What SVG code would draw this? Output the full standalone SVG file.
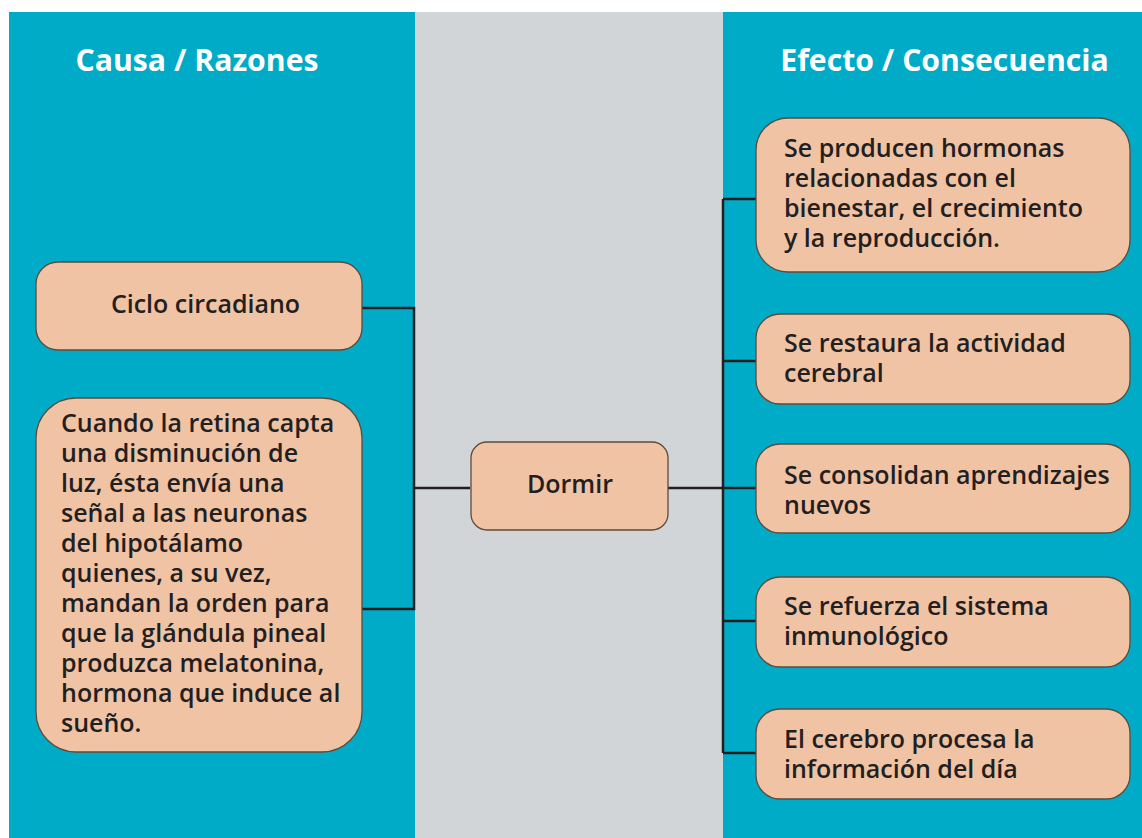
<svg xmlns="http://www.w3.org/2000/svg" width="1142" height="838" viewBox="0 0 1142 838">
<style>
.panel{fill:#00ABC7}
.mid{fill:#D1D5D8}
.box{fill:#F0C3A5;stroke:#5E4B3C;stroke-width:1.3}
.t{font-family:"Open Sans","Noto Sans","Liberation Sans",sans-serif;font-weight:600;font-size:25px;fill:#231F20}
.h{font-family:"Open Sans","Noto Sans","Liberation Sans",sans-serif;font-weight:700;font-size:30.2px;fill:#FFFFFF}
.c{fill:none;stroke:#231F20;stroke-width:2.5}
</style>
<rect width="1142" height="838" fill="#FFFFFF"/>
<rect class="panel" x="9" y="12" width="406" height="826"/>
<rect class="mid" x="415" y="12" width="308" height="826"/>
<rect class="panel" x="723" y="12" width="419" height="826"/>
<text class="h" x="197" y="71" text-anchor="middle">Causa / Razones</text>
<text class="h" x="944.5" y="71" text-anchor="middle">Efecto / Consecuencia</text>
<g id="connectors">
<polyline class="c" points="362,308 414,308 414,609 362,609"/>
<line class="c" x1="414" y1="488" x2="470" y2="488"/>
<line class="c" x1="668" y1="488" x2="723" y2="488"/>
<line class="c" x1="723" y1="199" x2="723" y2="753"/>
<line class="c" x1="723" y1="199" x2="756" y2="199"/>
<line class="c" x1="723" y1="361" x2="756" y2="361"/>
<line class="c" x1="723" y1="488" x2="756" y2="488"/>
<line class="c" x1="723" y1="621" x2="756" y2="621"/>
<line class="c" x1="723" y1="753" x2="756" y2="753"/>
</g>
<g id="ciclo">
<rect class="box" x="36" y="262" width="326" height="88" rx="22"/>
<text class="t" x="205.5" y="313" text-anchor="middle">Ciclo circadiano</text>
</g>
<g id="retina">
<rect class="box" x="36" y="398" width="326" height="354" rx="40"/>
<text class="t" x="61" y="432">Cuando la retina capta</text>
<text class="t" x="61" y="462">una disminución de</text>
<text class="t" x="61" y="492">luz, ésta envía una</text>
<text class="t" x="61" y="522">señal a las neuronas</text>
<text class="t" x="61" y="552">del hipotálamo</text>
<text class="t" x="61" y="582">quienes, a su vez,</text>
<text class="t" x="61" y="612">mandan la orden para</text>
<text class="t" x="61" y="642">que la glándula pineal</text>
<text class="t" x="61" y="672">produzca melatonina,</text>
<text class="t" x="61" y="702">hormona que induce al</text>
<text class="t" x="61" y="732">sueño.</text>
</g>
<g id="dormir">
<rect class="box" x="471" y="442" width="197" height="88" rx="16"/>
<text class="t" x="570" y="493" text-anchor="middle">Dormir</text>
</g>
<g id="hormonas">
<rect class="box" x="756" y="118" width="374" height="154" rx="32"/>
<text class="t" x="784" y="157">Se producen hormonas</text>
<text class="t" x="784" y="187">relacionadas con el</text>
<text class="t" x="784" y="217">bienestar, el crecimiento</text>
<text class="t" x="784" y="247">y la reproducción.</text>
</g>
<g id="restaura">
<rect class="box" x="756" y="314" width="374" height="90" rx="24"/>
<text class="t" x="784" y="352">Se restaura la actividad</text>
<text class="t" x="784" y="382">cerebral</text>
</g>
<g id="consolidan">
<rect class="box" x="756" y="444" width="374" height="89" rx="24"/>
<text class="t" x="784" y="484">Se consolidan aprendizajes</text>
<text class="t" x="784" y="514">nuevos</text>
</g>
<g id="refuerza">
<rect class="box" x="756" y="577" width="374" height="90" rx="24"/>
<text class="t" x="784" y="615">Se refuerza el sistema</text>
<text class="t" x="784" y="645">inmunológico</text>
</g>
<g id="cerebro">
<rect class="box" x="756" y="709" width="374" height="90" rx="24"/>
<text class="t" x="784" y="748">El cerebro procesa la</text>
<text class="t" x="784" y="778">información del día</text>
</g>
</svg>
